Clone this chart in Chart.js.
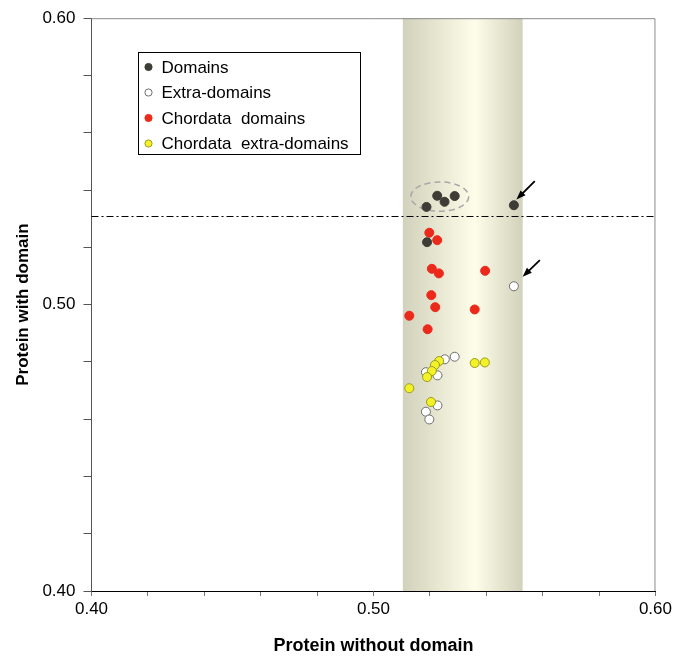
<!DOCTYPE html>
<html>
<head>
<meta charset="utf-8">
<script src="https://cdn.jsdelivr.net/npm/chart.js@4.4.1/dist/chart.umd.min.js"></script>
<style>
  html, body { margin: 0; padding: 0; background: #fff; }
  #wrap { width: 675px; height: 657px; position: relative; }
</style>
</head>
<body>
<div id="wrap"><canvas id="chart"></canvas></div>
<script>
// series values (x = protein without domain, y = protein with domain)
const seriesNames = ['Domains', 'Extra-domains', 'Chordata  domains', 'Chordata  extra-domains'];

const domainsX = [0.5226, 0.5288, 0.5252, 0.5188, 0.5498, 0.5190];
const domainsY = [0.5380, 0.5379, 0.5359, 0.5341, 0.5347, 0.5218];

const extraX = [0.5498, 0.5288, 0.5253, 0.5186, 0.5227, 0.5227, 0.5186, 0.5198];
const extraY = [0.5064, 0.4818, 0.4809, 0.4764, 0.4753, 0.4648, 0.4626, 0.4599];

const chordX = [0.5198, 0.5226, 0.5207, 0.5232, 0.5396, 0.5205, 0.5219, 0.5127, 0.5359, 0.5192];
const chordY = [0.5251, 0.5225, 0.5125, 0.5109, 0.5118, 0.5033, 0.4991, 0.4961, 0.4983, 0.4914];

const chordExtraX = [0.5233, 0.5218, 0.5207, 0.5190, 0.5127, 0.5204, 0.5359, 0.5395];
const chordExtraY = [0.4803, 0.4789, 0.4768, 0.4747, 0.4708, 0.4660, 0.4796, 0.4798];

const majorTicks = [0.40, 0.50, 0.60];

// shaded band, threshold line and annotations (data units)
const bandRange = [0.5104, 0.5529];
const thresholdY = 0.531;
const clusterEllipse = { x: 0.5235, y: 0.5377, rx: 0.01027, ry: 0.00513 };
const arrows = [
  { from: [0.5572, 0.5431], to: [0.5507, 0.5367] },
  { from: [0.5590, 0.5155], to: [0.5529, 0.5097] }
];

const pts = (xs, ys) => xs.map((x, i) => ({ x: x, y: ys[i] }));

const styles = [
  { bg: '#3d3d36', border: '#3d3d36' },
  { bg: '#ffffff', border: '#6e6e6e' },
  { bg: '#ec2a1b', border: '#ec2a1b' },
  { bg: '#f2f226', border: '#9c9c20' }
];
const allData = [pts(domainsX, domainsY), pts(extraX, extraY), pts(chordX, chordY), pts(chordExtraX, chordExtraY)];

const datasets = allData.map((d, i) => ({
  label: seriesNames[i],
  data: d,
  backgroundColor: styles[i].bg,
  borderColor: styles[i].border,
  borderWidth: 1,
  pointRadius: 4.5,
  pointHoverRadius: 4.5,
  order: 3 - i
}));

const backdrop = {
  id: 'backdrop',
  beforeDatasetsDraw(chart) {
    const { ctx, chartArea: a, scales: { x, y } } = chart;
    ctx.save();
    // band
    const x0 = x.getPixelForValue(bandRange[0]);
    const x1 = x.getPixelForValue(bandRange[1]);
    const g = ctx.createLinearGradient(x0, 0, x1, 0);
    g.addColorStop(0, '#d2d1bb');
    g.addColorStop(0.6, '#fdfde9');
    g.addColorStop(1, '#d2d1bb');
    ctx.fillStyle = g;
    ctx.fillRect(x0, a.top, x1 - x0, a.bottom - a.top);

    // frame top / right
    ctx.strokeStyle = '#8a8a8a';
    ctx.lineWidth = 1;
    ctx.beginPath();
    ctx.moveTo(a.left, a.top + 0.5);
    ctx.lineTo(a.right - 0.5, a.top + 0.5);
    ctx.lineTo(a.right - 0.5, a.bottom);
    ctx.stroke();

    // threshold dash-dot line
    const ty = Math.round(y.getPixelForValue(thresholdY)) + 0.5;
    ctx.strokeStyle = '#000';
    ctx.setLineDash([7, 3, 2, 3]);
    ctx.beginPath();
    ctx.moveTo(a.left, ty);
    ctx.lineTo(a.right, ty);
    ctx.stroke();

    // dashed ellipse round the cluster
    const cx = x.getPixelForValue(clusterEllipse.x);
    const cy = y.getPixelForValue(clusterEllipse.y);
    const rx = Math.abs(x.getPixelForValue(clusterEllipse.x + clusterEllipse.rx) - cx);
    const ry = Math.abs(y.getPixelForValue(clusterEllipse.y + clusterEllipse.ry) - cy);
    ctx.strokeStyle = '#a8a8a8';
    ctx.lineWidth = 1.5;
    ctx.setLineDash([6, 4]);
    ctx.beginPath();
    ctx.ellipse(cx, cy, rx, ry, 0, 0, Math.PI * 2);
    ctx.stroke();
    ctx.setLineDash([]);

    // arrows
    ctx.strokeStyle = '#000';
    ctx.fillStyle = '#000';
    ctx.lineWidth = 1.8;
    arrows.forEach(ar => {
      const fx = x.getPixelForValue(ar.from[0]), fy = y.getPixelForValue(ar.from[1]);
      const tx = x.getPixelForValue(ar.to[0]), tyy = y.getPixelForValue(ar.to[1]);
      const ang = Math.atan2(tyy - fy, tx - fx);
      const hl = 10;
      ctx.beginPath();
      ctx.moveTo(fx, fy);
      ctx.lineTo(tx - Math.cos(ang) * 6, tyy - Math.sin(ang) * 6);
      ctx.stroke();
      ctx.beginPath();
      ctx.moveTo(tx, tyy);
      ctx.lineTo(tx - hl * Math.cos(ang - 0.36), tyy - hl * Math.sin(ang - 0.36));
      ctx.lineTo(tx - hl * Math.cos(ang + 0.36), tyy - hl * Math.sin(ang + 0.36));
      ctx.closePath();
      ctx.fill();
    });
    ctx.restore();
  }
};

// boxed legend inside the plot, drawn from the datasets
const boxLegend = {
  id: 'boxLegend',
  afterDraw(chart) {
    const { ctx } = chart;
    const bx = 138.5, by = 52.5, bw = 222, bh = 102;
    ctx.save();
    ctx.fillStyle = '#fff';
    ctx.fillRect(bx, by, bw, bh);
    ctx.strokeStyle = '#000';
    ctx.lineWidth = 1;
    ctx.strokeRect(bx, by, bw, bh);
    ctx.font = '17px "Liberation Sans", Arial, sans-serif';
    ctx.textBaseline = 'middle';
    chart.data.datasets.forEach((ds, i) => {
      const ry = by + 14.5 + i * 25.5;
      ctx.beginPath();
      ctx.arc(bx + 10, ry, 3.6, 0, Math.PI * 2);
      ctx.fillStyle = ds.backgroundColor;
      ctx.fill();
      ctx.strokeStyle = ds.borderColor;
      ctx.lineWidth = 1;
      ctx.stroke();
      ctx.fillStyle = '#000';
      ctx.fillText(ds.label, bx + 23, ry + 1);
    });
    ctx.restore();
  }
};

const tickLabel = v => majorTicks.some(t => Math.abs(t - v) < 1e-6) ? v.toFixed(2) : '';

new Chart(document.getElementById('chart'), {
  type: 'scatter',
  data: { datasets: datasets },
  options: {
    responsive: true,
    maintainAspectRatio: false,
    animation: false,
    layout: { padding: { top: 16.5, right: 18.5, left: 0, bottom: 0 } },
    plugins: { legend: { display: false }, tooltip: { enabled: false } },
    scales: {
      x: {
        type: 'linear',
        min: 0.40,
        max: 0.60,
        ticks: {
          stepSize: 0.02,
          autoSkip: false,
          maxRotation: 0,
          padding: 3,
          color: '#000',
          font: { family: '"Liberation Sans", Arial, sans-serif', size: 17 },
          callback: tickLabel
        },
        grid: { display: true, drawOnChartArea: false, drawTicks: true, tickLength: 5, color: '#777' },
        border: { display: true, color: '#000', width: 1 },
        title: {
          display: true,
          text: 'Protein without domain',
          color: '#000',
          font: { family: '"Liberation Sans", Arial, sans-serif', size: 18, weight: 'bold', lineHeight: 1.2 },
          padding: { top: 0, bottom: 0 }
        },
        afterFit(scale) { scale.height = 66; }
      },
      y: {
        type: 'linear',
        min: 0.40,
        max: 0.60,
        ticks: {
          stepSize: 0.02,
          autoSkip: false,
          padding: 8,
          color: '#000',
          font: { family: '"Liberation Sans", Arial, sans-serif', size: 17 },
          callback: tickLabel
        },
        grid: { display: true, drawOnChartArea: false, drawTicks: true, tickLength: 8, color: '#555' },
        border: { display: true, color: '#555', width: 1 },
        title: {
          display: true,
          text: 'Protein with domain',
          color: '#000',
          font: { family: '"Liberation Sans", Arial, sans-serif', size: 17, weight: 'bold', lineHeight: 1.2 },
          padding: { top: 12.8, bottom: 0 }
        },
        afterFit(scale) { scale.width = 91.5; }
      }
    }
  },
  plugins: [backdrop, boxLegend]
});
</script>
</body>
</html>
